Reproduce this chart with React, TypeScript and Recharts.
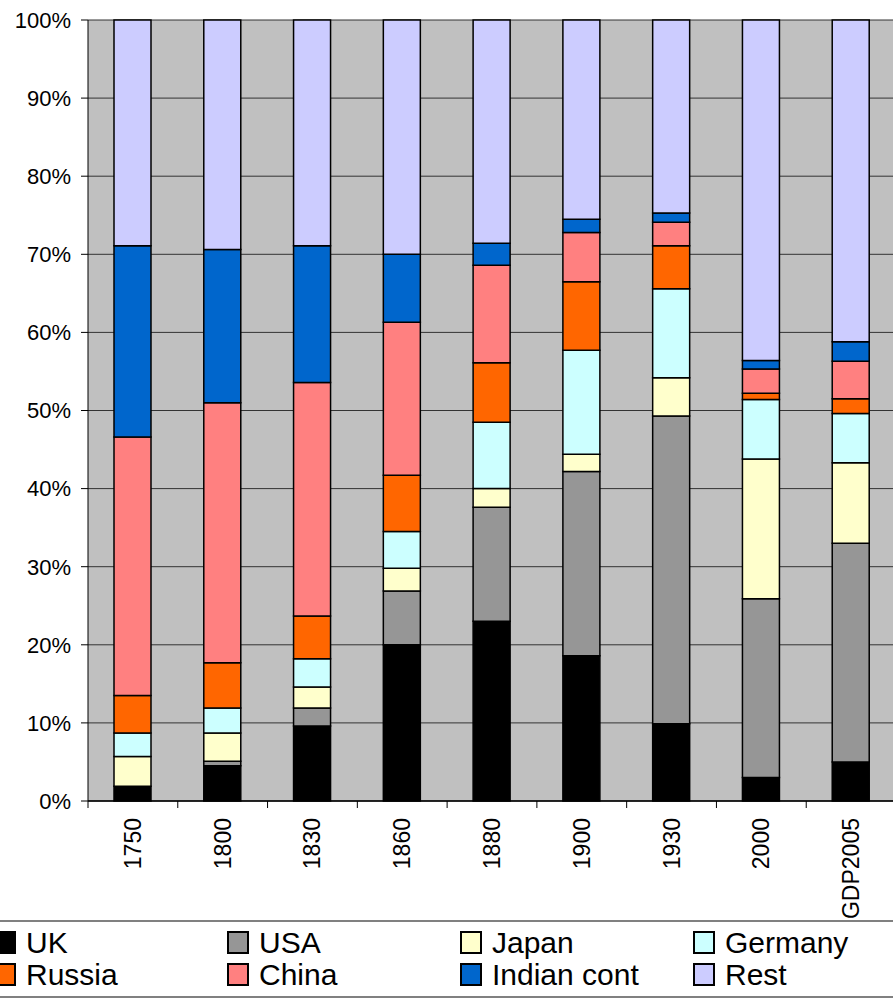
import React from 'react';
import { BarChart, Bar, XAxis, YAxis, CartesianGrid } from 'recharts';

const CATEGORIES = ['1750', '1800', '1830', '1860', '1880', '1900', '1930', '2000', 'GDP2005'];

const UK = [1.9, 4.5, 9.6, 20.0, 23.0, 18.6, 9.9, 3.0, 5.0];
const USA = [0, 0.6, 2.3, 6.9, 14.6, 23.6, 39.4, 22.9, 28.0];
const JAPAN = [3.8, 3.6, 2.7, 2.9, 2.4, 2.2, 4.9, 17.9, 10.3];
const GERMANY = [3.0, 3.2, 3.6, 4.7, 8.5, 13.3, 11.4, 7.6, 6.3];
const RUSSIA = [4.8, 5.8, 5.5, 7.2, 7.6, 8.8, 5.5, 0.8, 1.9];
const CHINA = [33.1, 33.3, 29.9, 19.6, 12.5, 6.3, 3.0, 3.1, 4.8];
const INDIAN = [24.5, 19.6, 17.5, 8.7, 2.8, 1.7, 1.2, 1.1, 2.5];
const REST = [28.9, 29.4, 28.9, 30.0, 28.6, 25.5, 24.7, 43.6, 41.2];

const Y_TICKS = [0, 10, 20, 30, 40, 50, 60, 70, 80, 90, 100];

const SERIES = [
  { key: 'uk', name: 'UK', values: UK, color: '#000000' },
  { key: 'usa', name: 'USA', values: USA, color: '#969696' },
  { key: 'japan', name: 'Japan', values: JAPAN, color: '#FFFFCC' },
  { key: 'germany', name: 'Germany', values: GERMANY, color: '#CCFFFF' },
  { key: 'russia', name: 'Russia', values: RUSSIA, color: '#FF6600' },
  { key: 'china', name: 'China', values: CHINA, color: '#FF8080' },
  { key: 'indian', name: 'Indian cont', values: INDIAN, color: '#0066CC' },
  { key: 'rest', name: 'Rest', values: REST, color: '#CCCCFF' },
];

const data = CATEGORIES.map((cat, i) => {
  const row: Record<string, string | number> = { year: cat };
  SERIES.forEach(s => { row[s.key] = s.values[i]; });
  return row;
});

const CHART_W = 896;
const Y_AXIS_W = 88;
const FONT = '"Liberation Sans", Arial, sans-serif';

// category label rotated, plus Excel-style tick mark between categories
const XTick = (props: any) => {
  const { x, y, payload } = props;
  const band = (CHART_W - Y_AXIS_W) / CATEGORIES.length;
  return (
    <g>
      <line x1={x - band / 2} x2={x - band / 2} y1={y} y2={y + 7} stroke="#000" strokeWidth={1} />
      <text
        x={x}
        y={y + 17}
        transform={`rotate(-90, ${x}, ${y + 17})`}
        textAnchor="end"
        dominantBaseline="central"
        fontSize={23}
        fontFamily={FONT}
        fill="#000"
      >
        {payload.value}
      </text>
    </g>
  );
};

const ChartLegend = () => (
  <div
    style={{
      position: 'absolute',
      left: 0,
      top: 920,
      width: 893,
      height: 78,
      borderTop: '2px solid #808080',
      borderBottom: '2px solid #808080',
      boxSizing: 'border-box',
    }}
  >
    {SERIES.map((s, i) => {
      const col = i % 4;
      const row = Math.floor(i / 4);
      return (
        <div
          key={s.key}
          style={{
            position: 'absolute',
            left: -6 + col * 233,
            top: 5 + row * 32,
            height: 31,
            display: 'flex',
            alignItems: 'center',
            whiteSpace: 'nowrap',
          }}
        >
          <span
            style={{
              display: 'inline-block',
              width: 18,
              height: 19,
              background: s.color,
              border: '2px solid #000',
              marginRight: 10,
            }}
          />
          <span style={{ fontSize: 30, fontFamily: FONT, color: '#000', lineHeight: '31px' }}>{s.name}</span>
        </div>
      );
    })}
  </div>
);

export default function App() {
  return (
    <div
      style={{
        position: 'absolute',
        left: 0,
        top: 0,
        width: 893,
        height: 1000,
        overflow: 'hidden',
        background: '#fff',
      }}
    >
      <BarChart
        width={CHART_W}
        height={920}
        data={data}
        margin={{ top: 20, right: 0, left: 0, bottom: 0 }}
        barSize={37}
      >
        <CartesianGrid vertical={false} stroke="#333" fill="#C0C0C0" strokeWidth={1} />
        <XAxis
          dataKey="year"
          height={119}
          tickLine={false}
          tickSize={0}
          tickMargin={0}
          axisLine={{ stroke: '#000', strokeWidth: 1.5 }}
          tick={<XTick />}
          interval={0}
        />
        <YAxis
          width={Y_AXIS_W}
          domain={[0, 100]}
          ticks={Y_TICKS}
          interval={0}
          tickFormatter={(v: number) => `${v}%`}
          tickSize={7}
          tickMargin={10}
          tick={{ fontSize: 22, fontFamily: FONT, fill: '#000' }}
          tickLine={{ stroke: '#000' }}
          axisLine={{ stroke: '#000' }}
        />
        {SERIES.map(s => (
          <Bar
            key={s.key}
            dataKey={s.key}
            name={s.name}
            stackId="gdp"
            fill={s.color}
            stroke="#000"
            strokeWidth={1.5}
            isAnimationActive={false}
          />
        ))}
      </BarChart>
      <ChartLegend />
    </div>
  );
}
